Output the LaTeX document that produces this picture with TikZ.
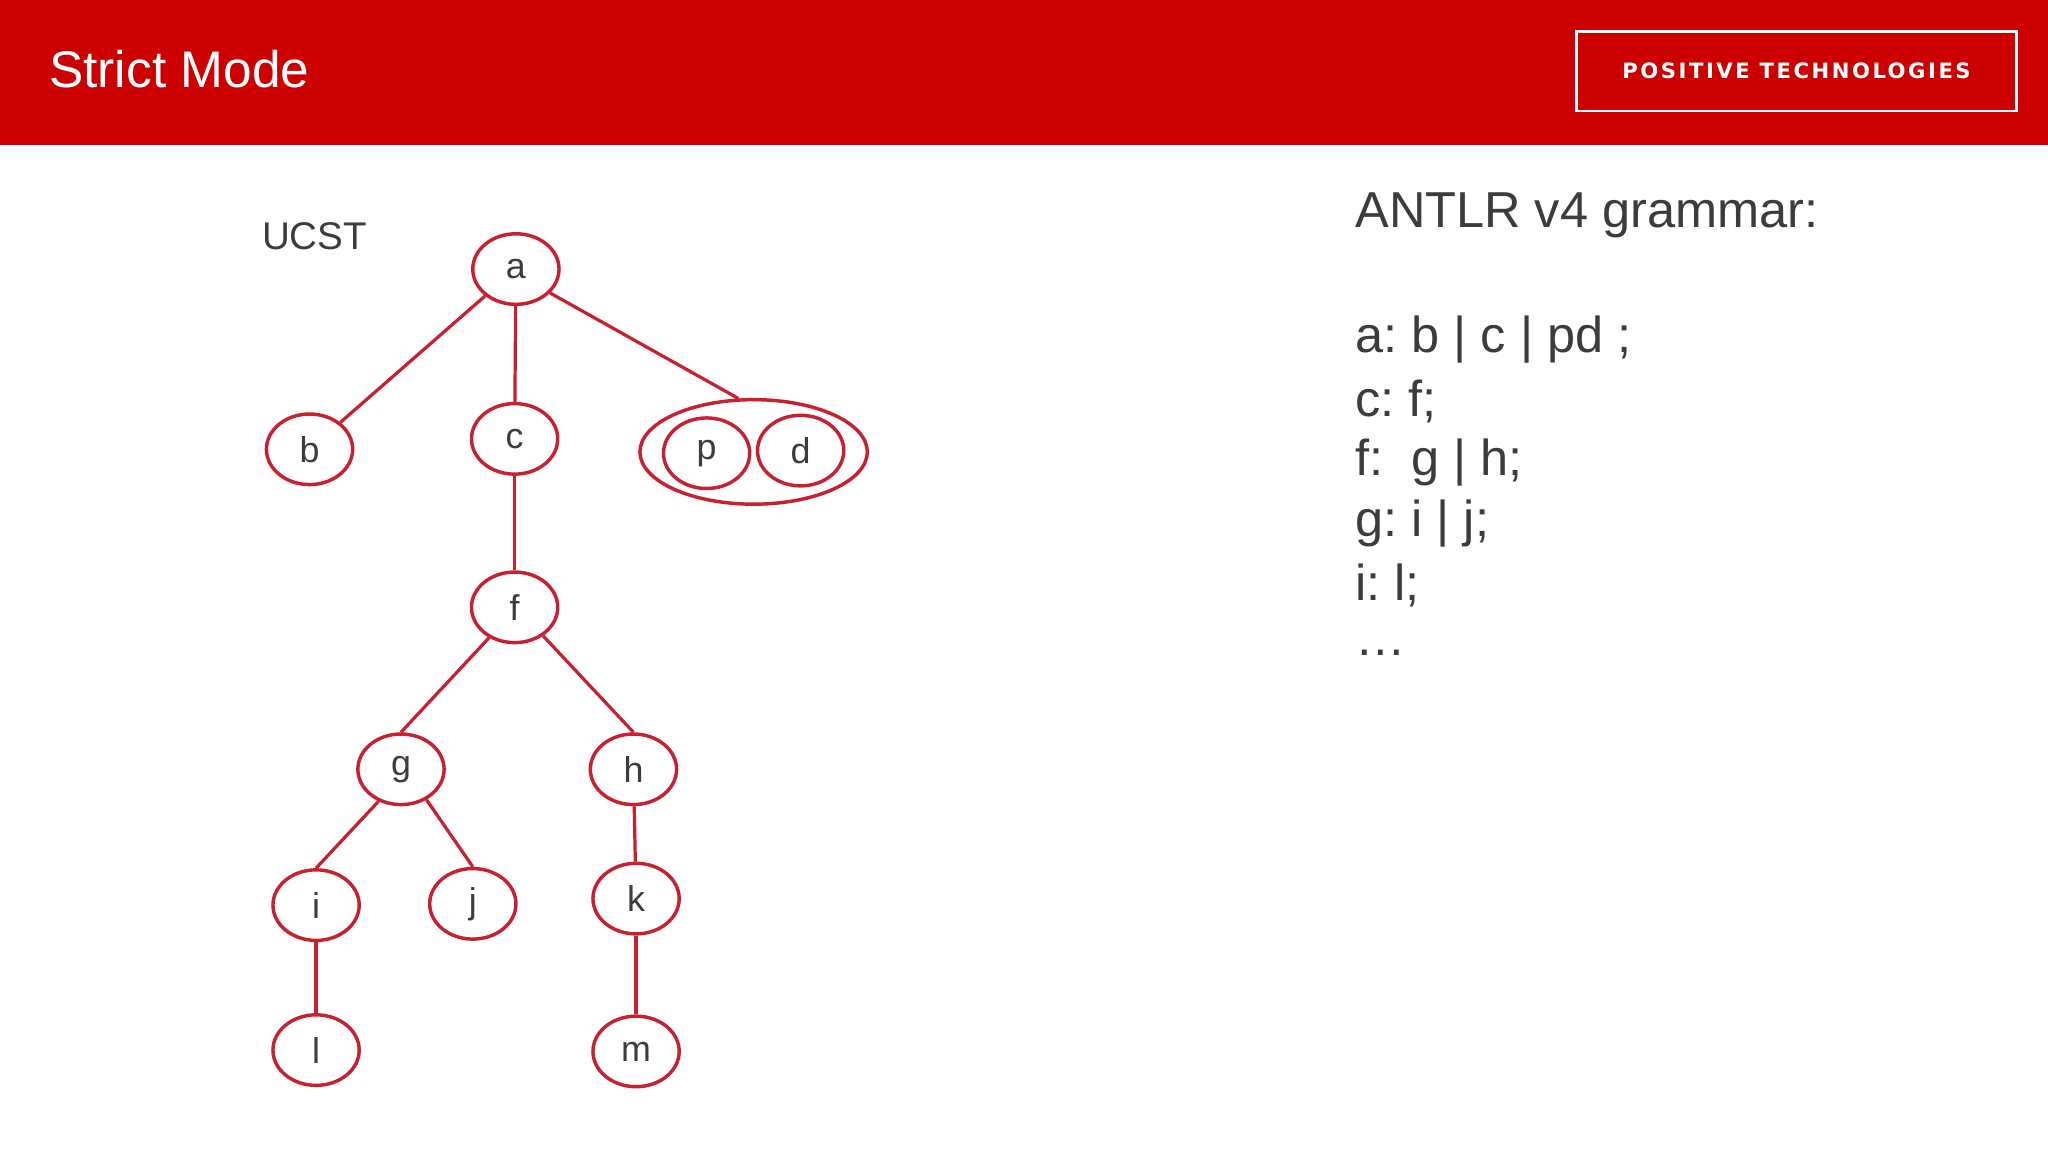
\documentclass[tikz,border=0pt]{standalone}
\usepackage{fontspec}
\setmainfont{Liberation Sans}
\newfontfamily\logofont[LetterSpace=12]{DejaVu Sans}
\usetikzlibrary{shapes.geometric}
\definecolor{ptred}{HTML}{CC0000}
\definecolor{edge}{HTML}{C8202F}
\definecolor{txt}{HTML}{3C3C3C}
\tikzset{
 tn/.style={ellipse,draw=edge,line width=0.75pt,minimum width=0.66cm,minimum height=0.54cm,inner sep=0pt,text=txt,font=\fontsize{7.8}{9}\selectfont},
 ed/.style={draw=edge,line width=0.7pt},
 gr/.style={anchor=west,text=txt,font=\fontsize{11}{13}\selectfont,inner sep=0pt}
}
\begin{document}
\frenchspacing
\begin{tikzpicture}[x=0.01cm,y=-0.01cm]
\useasboundingbox (0,0) rectangle (1568,882);
\fill[white] (0,0) rectangle (1568,882);
\fill[ptred] (0,0) rectangle (1568,111);
\node[anchor=west,text=white,font=\fontsize{11.2}{14}\selectfont,inner sep=0pt] (title) at (37,53) {Strict Mode};
\node[draw=white,line width=0.6pt,minimum width=3.37cm,minimum height=0.61cm,text=white,font=\logofont\bfseries\fontsize{4.6}{5}\selectfont] (logo) at (1375.5,54.5) {POSITIVE TECHNOLOGIES};
\node[anchor=west,text=txt,font=\fontsize{8.4}{10}\selectfont,inner sep=0pt] (ucst) at (200,181) {UCST};
\node[tn] (a) at (395,206) {a};
\node[tn] (b) at (237,344) {b};
\node[tn] (c) at (394,336) {c};
\node[ellipse,draw=edge,line width=0.75pt,minimum width=1.74cm,minimum height=0.8cm] (pd) at (577,346) {};
\node[tn] (p) at (541,347) {p};
\node[tn] (d) at (613,345) {d};
\node[tn] (f) at (394,465) {f};
\node[tn] (g) at (307,589) {g};
\node[tn] (h) at (485,589) {h};
\node[tn] (i) at (242,693) {i};
\node[tn] (j) at (362,692) {j};
\node[tn] (k) at (487,688) {k};
\node[tn] (l) at (242,804) {l};
\node[tn] (m) at (487,805) {m};
\draw[ed] (a) -- (b);
\draw[ed] (a) -- (c);
\draw[ed] (a.-35) -- (pd.106);
\draw[ed] (c) -- (f);
\draw[ed] (f.230) -- (g.north);
\draw[ed] (f.-45) -- (h.north);
\draw[ed] (g.235) -- (i.north);
\draw[ed] (g.-50) -- (j.north);
\draw[ed] (h) -- (k);
\draw[ed] (i) -- (l);
\draw[ed] (k) -- (m);
\node[gr] (g0) at (1037,165) {ANTLR v4 grammar:};
\node[gr] (g1) at (1037,260) {a: b | c | pd ;};
\node[gr] (g2) at (1037,307) {c: f;};
\node[gr] (g3) at (1037,354) {f:\ \ g | h;};
\node[gr] (g4) at (1037,401) {g: i | j;};
\node[gr] (g5) at (1037,448) {i: l;};
\node[gr] (g6) at (1037,500) {\dots};
\end{tikzpicture}
\end{document}
